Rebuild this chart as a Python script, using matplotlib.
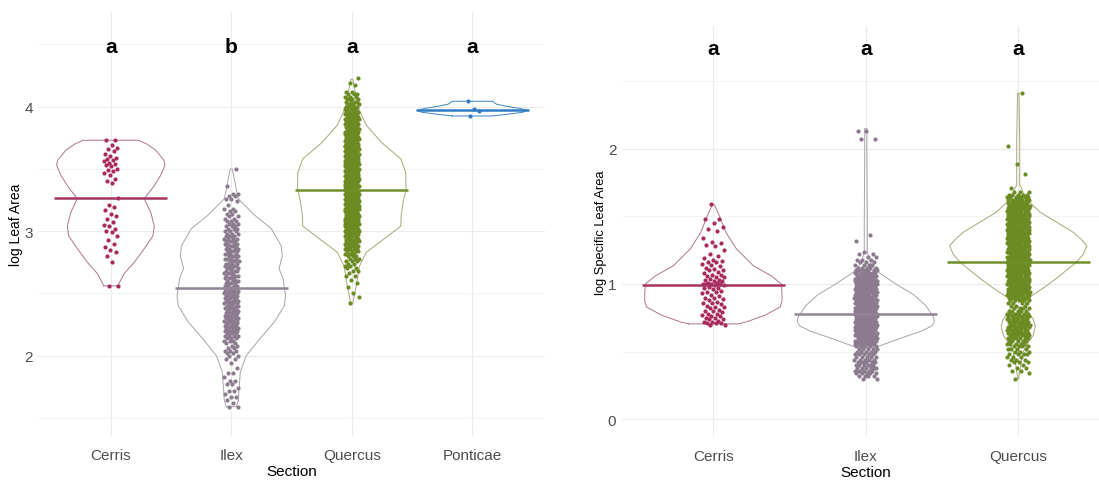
import numpy as np
import matplotlib.pyplot as plt

plt.rcParams['font.family'] = ['Liberation Sans', 'DejaVu Sans']

# ---------------- values ----------------
sections_la = ['Cerris', 'Ilex', 'Quercus', 'Ponticae']
sections_sla = ['Cerris', 'Ilex', 'Quercus']
letters_la = ['a', 'b', 'a', 'a']
letters_sla = ['a', 'a', 'a']

median_la = [3.264, 2.541, 3.333, 3.973]
median_sla = [0.995, 0.777, 1.163]

# log Leaf Area, single points
cerris_la = [2.56, 2.56, 2.75, 2.80, 2.83, 2.85, 2.87, 2.90, 2.93, 2.96, 2.99, 3.00,
             3.02, 3.04, 3.05, 3.07, 3.10, 3.12, 3.14, 3.17, 3.19, 3.21, 3.27,
             3.39, 3.40, 3.42, 3.45, 3.47, 3.48, 3.49, 3.50, 3.52, 3.53, 3.54, 3.55,
             3.56, 3.57, 3.58, 3.59, 3.60, 3.62, 3.64, 3.66, 3.67, 3.69, 3.73, 3.73]
# (value, number of points at that value)
ilex_la = [(1.59, 2), (1.62, 1), (1.64, 1), (1.67, 2), (1.69, 1), (1.72, 2), (1.74, 1),
           (1.77, 2), (1.80, 2), (1.83, 1), (1.86, 2), (1.90, 1), (1.94, 1), (1.97, 2),
           (2.00, 2), (2.02, 2), (2.04, 3), (2.06, 2), (2.08, 2),
           (2.10, 2), (2.12, 3), (2.14, 3), (2.16, 4), (2.18, 4), (2.20, 5), (2.22, 5),
           (2.24, 5), (2.26, 5), (2.28, 5), (2.30, 5), (2.32, 5), (2.34, 5), (2.36, 5),
           (2.38, 5), (2.40, 5), (2.42, 5), (2.44, 5), (2.46, 5), (2.48, 5), (2.50, 5),
           (2.52, 5), (2.54, 4), (2.56, 4), (2.58, 4), (2.60, 4), (2.62, 4), (2.64, 4),
           (2.66, 4), (2.68, 4), (2.70, 4), (2.72, 4), (2.74, 4), (2.76, 4), (2.78, 4),
           (2.80, 4), (2.82, 4), (2.84, 4), (2.86, 4), (2.88, 4), (2.90, 4), (2.92, 4),
           (2.94, 4), (2.96, 4), (2.98, 3), (3.00, 3), (3.02, 3), (3.04, 3), (3.06, 3),
           (3.08, 3), (3.10, 2), (3.12, 2), (3.14, 2), (3.16, 2), (3.18, 2), (3.21, 1),
           (3.24, 1), (3.26, 2), (3.28, 2), (3.30, 2), (3.36, 1), (3.50, 1)]
quercus_la = [(2.42, 1), (2.47, 1), (2.50, 1), (2.55, 1), (2.58, 1), (2.61, 1), (2.64, 2),
              (2.66, 1), (2.68, 2), (2.70, 2), (2.72, 2), (2.74, 2), (2.76, 3), (2.78, 3),
              (2.80, 3), (2.82, 4), (2.84, 4), (2.86, 5), (2.88, 6), (2.90, 6), (2.92, 7),
              (2.94, 7), (2.96, 8), (2.98, 9), (3.00, 9), (3.02, 9), (3.04, 10), (3.06, 9),
              (3.08, 9), (3.10, 10), (3.12, 9), (3.14, 10), (3.16, 9), (3.18, 10), (3.20, 10),
              (3.22, 9), (3.24, 10), (3.26, 10), (3.28, 10), (3.30, 10), (3.32, 10), (3.34, 10),
              (3.36, 10), (3.38, 10), (3.40, 10), (3.42, 9), (3.44, 10), (3.46, 9), (3.48, 10),
              (3.50, 9), (3.52, 9), (3.54, 10), (3.56, 9), (3.58, 9), (3.60, 9), (3.62, 9),
              (3.64, 9), (3.66, 8), (3.68, 9), (3.70, 8), (3.72, 8), (3.74, 8), (3.76, 8),
              (3.78, 8), (3.80, 8), (3.82, 7), (3.84, 7), (3.86, 7), (3.88, 6), (3.90, 6),
              (3.92, 6), (3.94, 6), (3.96, 5), (3.98, 5), (4.00, 5), (4.02, 4), (4.04, 4),
              (4.06, 4), (4.08, 3), (4.10, 3), (4.12, 2), (4.17, 1), (4.19, 1), (4.23, 1)]
ponticae_la = [3.925, 3.965, 3.98, 4.043]

# log Specific Leaf Area
cerris_sla = [0.70, 0.70, 0.71, 0.71, 0.71, 0.72, 0.72, 0.73, 0.74, 0.74, 0.75, 0.75,
              0.76, 0.76, 0.77, 0.78, 0.78, 0.79, 0.80, 0.80, 0.81, 0.82, 0.83, 0.83,
              0.84, 0.85, 0.86, 0.86, 0.87, 0.88, 0.89, 0.90, 0.90, 0.91, 0.92, 0.93,
              0.94, 0.94, 0.95, 0.96, 0.97, 0.97, 0.98, 0.99, 0.99,
              1.00, 1.00, 1.00, 1.00, 1.01, 1.01, 1.02, 1.02, 1.03, 1.03, 1.04, 1.05,
              1.05, 1.06, 1.07, 1.07, 1.08, 1.09, 1.10, 1.10, 1.11, 1.12, 1.13, 1.14,
              1.15, 1.16, 1.16, 1.17, 1.18, 1.19, 1.21, 1.22, 1.25, 1.28, 1.29, 1.30,
              1.31, 1.34, 1.39, 1.41, 1.42, 1.45, 1.48, 1.48, 1.59]
ilex_sla = [(0.30, 2), (0.32, 4), (0.34, 5), (0.36, 6), (0.38, 6), (0.40, 6), (0.42, 6),
            (0.44, 5), (0.46, 5), (0.48, 5), (0.50, 5), (0.52, 5), (0.54, 5), (0.56, 8),
            (0.58, 10), (0.60, 12), (0.62, 12), (0.64, 12), (0.66, 12), (0.68, 12),
            (0.70, 12), (0.72, 12), (0.74, 12), (0.76, 12), (0.78, 12), (0.80, 12),
            (0.82, 12), (0.84, 12), (0.86, 12), (0.88, 12), (0.90, 12), (0.92, 12),
            (0.94, 12), (0.96, 12), (0.98, 12), (1.00, 12), (1.02, 12), (1.04, 11),
            (1.06, 10), (1.08, 9), (1.10, 7), (1.12, 5), (1.14, 4), (1.16, 3), (1.18, 3),
            (1.20, 2), (1.22, 2), (1.24, 1), (1.32, 1), (1.36, 1), (2.07, 2), (2.13, 2)]
quercus_sla = [(0.30, 1), (0.34, 1), (0.36, 2), (0.38, 2), (0.40, 2), (0.42, 3), (0.44, 3),
               (0.46, 3), (0.48, 4), (0.50, 3), (0.52, 4), (0.54, 4), (0.56, 5), (0.58, 5),
               (0.60, 7), (0.62, 8), (0.64, 8), (0.66, 9), (0.68, 9), (0.70, 9), (0.72, 9),
               (0.74, 9), (0.76, 8), (0.78, 7), (0.80, 5), (0.82, 4), (0.84, 3), (0.86, 4),
               (0.88, 6), (0.90, 10), (0.92, 12), (0.94, 12), (0.96, 12), (0.98, 12),
               (1.00, 12), (1.02, 12), (1.04, 12), (1.06, 12), (1.08, 12), (1.10, 12),
               (1.12, 12), (1.14, 12), (1.16, 12), (1.18, 12), (1.20, 12), (1.22, 12),
               (1.24, 12), (1.26, 12), (1.28, 12), (1.30, 12), (1.32, 12), (1.34, 12),
               (1.36, 12), (1.38, 12), (1.40, 12), (1.42, 12), (1.44, 12), (1.46, 12),
               (1.48, 12), (1.50, 12), (1.52, 12), (1.54, 12), (1.56, 12), (1.58, 12),
               (1.60, 11), (1.62, 9), (1.64, 7), (1.66, 5), (1.68, 3), (1.71, 1),
               (1.81, 1), (1.89, 1), (2.02, 1), (2.41, 1)]

# violin outlines: value and half width (x units)
cerris_la_vy = [2.56, 2.60, 2.66, 2.75, 2.86, 2.96, 3.04, 3.15, 3.26, 3.36, 3.45, 3.53, 3.57, 3.65, 3.70, 3.73]
cerris_la_vw = [0.058, 0.079, 0.112, 0.195, 0.278, 0.349, 0.361, 0.332, 0.278, 0.357, 0.415, 0.45, 0.44, 0.373, 0.299, 0.228]
ilex_la_vy = [1.59, 1.64, 1.73, 1.87, 2.00, 2.13, 2.27, 2.40, 2.48, 2.62, 2.70, 2.80, 2.88, 3.02, 3.13, 3.26, 3.34, 3.42, 3.50]
ilex_la_vw = [0.041, 0.058, 0.064, 0.075, 0.124, 0.232, 0.357, 0.44, 0.45, 0.429, 0.396, 0.423, 0.415, 0.332, 0.191, 0.058, 0.041, 0.025, 0.008]
quercus_la_vy = [2.415, 2.56, 2.72, 2.83, 2.94, 3.04, 3.125, 3.23, 3.34, 3.47, 3.58, 3.71, 3.85, 3.98, 4.12, 4.22]
quercus_la_vw = [0.008, 0.037, 0.064, 0.12, 0.271, 0.407, 0.41, 0.425, 0.45, 0.448, 0.407, 0.249, 0.121, 0.058, 0.028, 0.008]
ponticae_la_vy = [3.925, 3.94, 3.955, 3.97, 3.985, 4.0, 4.02, 4.043]
ponticae_la_vw = [0.166, 0.3, 0.42, 0.45, 0.4, 0.3, 0.2, 0.166]

cerris_sla_vy = [0.705, 0.72, 0.77, 0.83, 0.87, 0.94, 1.0, 1.06, 1.135, 1.26, 1.38, 1.505, 1.586]
cerris_sla_vw = [0.164, 0.217, 0.341, 0.438, 0.45, 0.45, 0.446, 0.38, 0.262, 0.151, 0.083, 0.039, 0.007]
ilex_sla_vy = [0.53, 0.54, 0.60, 0.65, 0.69, 0.72, 0.75, 0.84, 0.92, 1.00, 1.086, 1.15, 1.234, 1.30, 1.45, 2.00, 2.15]
ilex_sla_vw = [0.039, 0.085, 0.23, 0.361, 0.433, 0.45, 0.446, 0.394, 0.315, 0.197, 0.083, 0.033, 0.01, 0.01, 0.01, 0.007, 0.007]
quercus_sla_vy = [0.30, 0.40, 0.50, 0.57, 0.62, 0.69, 0.74, 0.78, 0.82, 0.86, 0.889, 0.92, 0.98, 1.04, 1.10,
                  1.16, 1.22, 1.283, 1.33, 1.382, 1.45, 1.53, 1.60, 1.64, 1.67, 1.70, 1.73, 2.05, 2.41]
quercus_sla_vw = [0.003, 0.016, 0.033, 0.066, 0.098, 0.112, 0.098, 0.072, 0.052, 0.046, 0.052, 0.098, 0.177, 0.249, 0.315,
                  0.381, 0.427, 0.45, 0.413, 0.361, 0.262, 0.144, 0.079, 0.046, 0.033, 0.026, 0.01, 0.01, 0.005]

point_col = {'Cerris': '#A8295C', 'Ilex': '#8C7B8F', 'Quercus': '#6A8C22', 'Ponticae': '#2F7CC6'}
line_col = {'Cerris': '#A63461', 'Ilex': '#938495', 'Quercus': '#6E902A', 'Ponticae': '#2F7CC6'}
violin_col = {'Cerris': '#AD7590', 'Ilex': '#AAA2AB', 'Quercus': '#A7A67A', 'Ponticae': '#3D84C8'}


def expand(d):
    if isinstance(d[0], tuple):
        v, n = zip(*d)
        return np.repeat(v, n)
    return np.asarray(d, dtype=float)


def jitter(n, w):
    return ((np.arange(n) * 0.6180339887 + 0.37) % 1.0 - 0.5) * 2 * w


def draw_group(ax, x, name, pts, vy, vw, med, jw):
    vy = np.asarray(vy)
    vw = np.asarray(vw)
    ax.plot(np.concatenate([x - vw, (x + vw)[::-1], [x - vw[0]]]),
            np.concatenate([vy, vy[::-1], [vy[0]]]),
            color=violin_col[name], lw=0.7, zorder=2)
    y = expand(pts)
    ax.scatter(x + jitter(len(y), jw), y, s=9, color=point_col[name],
               linewidths=0, zorder=3)
    ax.plot([x - 0.47, x + 0.47], [med, med], color=line_col[name], lw=1.8,
            solid_capstyle='butt', zorder=4)


def style(ax, names, ylabel, ysize):
    for s in ax.spines.values():
        s.set_visible(False)
    ax.set_xticks(range(1, len(names) + 1))
    ax.set_xticklabels(names)
    ax.tick_params(which='both', length=0, labelsize=11, labelcolor='#4D4D4D')
    ax.tick_params(axis='x', pad=9)
    ax.tick_params(axis='y', pad=4)
    ax.grid(True, which='major', color='#EBEBEB', lw=0.8)
    ax.grid(True, which='minor', axis='y', color='#F2F2F2', lw=0.6)
    ax.set_axisbelow(True)
    ax.set_xlabel('Section', fontsize=11, labelpad=1)
    ax.set_ylabel(ylabel, fontsize=ysize)
    ax.yaxis.set_label_coords(-0.031, 0.5)


fig = plt.figure(figsize=(10.99, 4.81), dpi=100)

# left panel: log Leaf Area
ax1 = fig.add_axes([0.03503, 0.09210, 0.46051, 0.88087])
groups_la = [(cerris_la, cerris_la_vy, cerris_la_vw),
             (ilex_la, ilex_la_vy, ilex_la_vw),
             (quercus_la, quercus_la_vy, quercus_la_vw),
             (ponticae_la, ponticae_la_vy, ponticae_la_vw)]
for i, (name, g) in enumerate(zip(sections_la, groups_la)):
    draw_group(ax1, i + 1, name, g[0], g[1], g[2], median_la[i], 0.06)
    ax1.text(i + 1, 4.48, letters_la[i], ha='center', va='center',
             fontsize=15, fontweight='bold')
ax1.set_xlim(0.4, 4.6)
ax1.set_ylim(1.357, 4.76)
ax1.set_yticks([2, 3, 4])
ax1.set_yticks([1.5, 2.5, 3.5, 4.5], minor=True)
style(ax1, sections_la, 'log Leaf Area', 10)

# right panel: log Specific Leaf Area
ax2 = fig.add_axes([0.56588, 0.08940, 0.44386, 0.85509])
groups_sla = [(cerris_sla, cerris_sla_vy, cerris_sla_vw),
              (ilex_sla, ilex_sla_vy, ilex_sla_vw),
              (quercus_sla, quercus_sla_vy, quercus_sla_vw)]
for i, (name, g) in enumerate(zip(sections_sla, groups_sla)):
    draw_group(ax2, i + 1, name, g[0], g[1], g[2], median_sla[i], 0.075)
    ax2.text(i + 1, 2.737, letters_sla[i], ha='center', va='center',
             fontsize=15, fontweight='bold')
ax2.set_xlim(0.4, 3.6)
ax2.set_ylim(-0.131, 2.909)
ax2.set_yticks([0, 1, 2])
ax2.set_yticks([0.5, 1.5, 2.5], minor=True)
style(ax2, sections_sla, 'log Specific Leaf Area', 9.3)

fig.savefig('out.png', dpi=100)
